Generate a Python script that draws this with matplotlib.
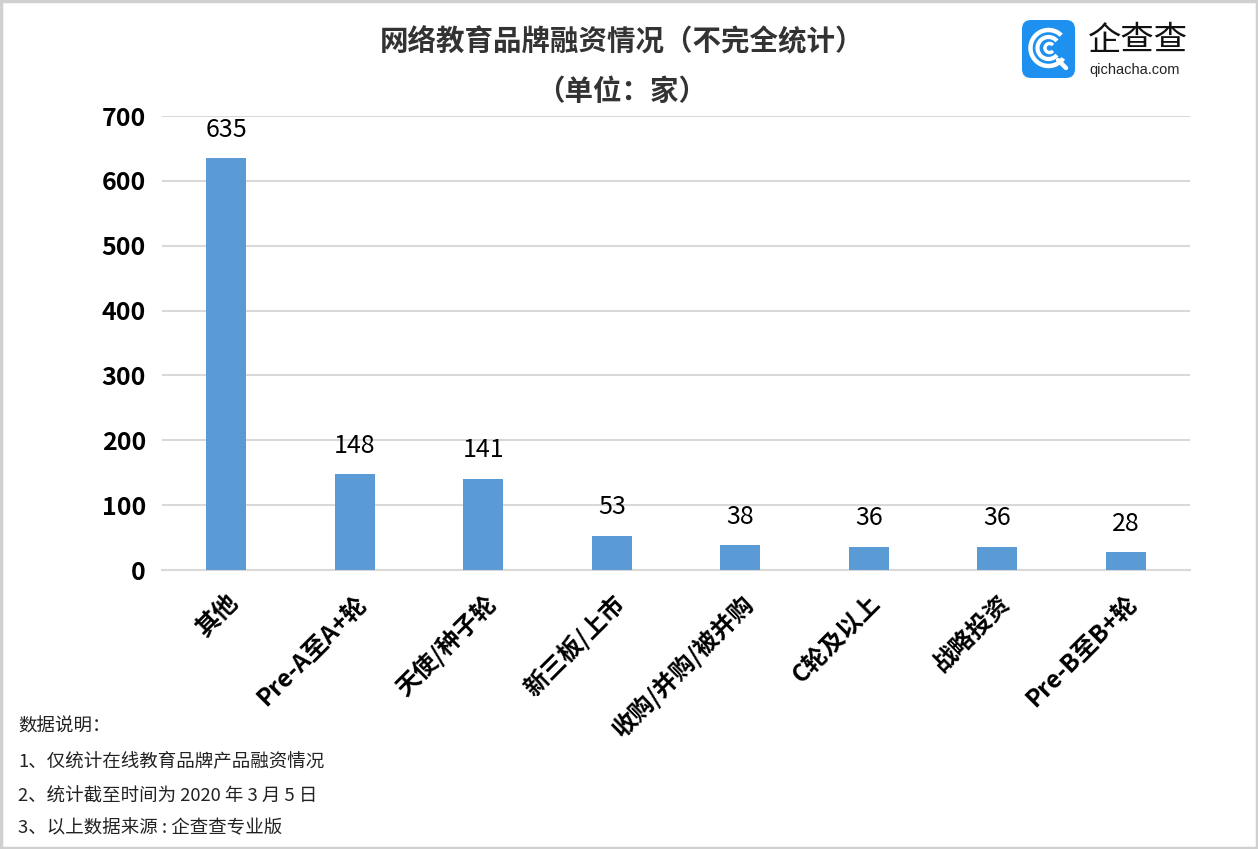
import matplotlib
matplotlib.use("Agg")
import matplotlib.pyplot as plt
from matplotlib.patches import FancyBboxPatch, Rectangle, Arc
import numpy as np

categories = ["其他", "Pre-A至A+轮", "天使/种子轮", "新三板/上市", "收购/并购/被并购", "C轮及以上", "战略投资", "Pre-B至B+轮"]
values = [635, 148, 141, 53, 38, 36, 36, 28]
yticks = [0, 100, 200, 300, 400, 500, 600, 700]
title1 = "网络教育品牌融资情况（不完全统计）"
title2 = "（单位：家）"
notes = ["数据说明：", "1、仅统计在线教育品牌产品融资情况", "2、统计截至时间为 2020 年 3 月 5 日", "3、以上数据来源 : 企查查专业版"]

plt.rcParams['font.family'] = ['Noto Sans CJK SC', 'DejaVu Sans']

W, H = 1258, 849
fig = plt.figure(figsize=(W/100, H/100), dpi=100)
fig.patch.set_facecolor('white')

ax = fig.add_axes([162/W, 1-570/H, (1190-162)/W, (570-116)/H])
x = np.arange(len(categories))
ax.bar(x, values, width=0.31, color='#5B9BD5', zorder=3)
ax.set_xlim(-0.5, len(categories)-0.5)
ax.set_ylim(0, 700)
ax.set_yticks(yticks)
ax.set_yticklabels([str(v) for v in yticks], fontsize=18, fontweight='bold')
ax.tick_params(axis='y', length=0, pad=11.5)
ax.tick_params(axis='x', length=0, pad=15)
ax.set_xticks(x)
ax.set_xticklabels(categories, rotation=45, ha='right', rotation_mode='anchor',
                   fontsize=17.5, fontweight='bold')
ax.grid(axis='y', color='#D9D9D9', linewidth=1.5, zorder=0)
for s in ['top', 'right', 'left']:
    ax.spines[s].set_visible(False)
ax.spines['bottom'].set_color('#D9D9D9')
ax.spines['bottom'].set_linewidth(1.5)

for xi, v in zip(x, values):
    ax.annotate(str(v), (xi, v), xytext=(0, 11), textcoords='offset points',
                ha='center', va='bottom', fontsize=18, fontweight='medium')

fig.text(622/W, 1-42/H, title1, ha='center', va='center', fontsize=20.5,
         fontweight='bold', color='#333333')
fig.text(622/W, 1-92/H, title2, ha='center', va='center', fontsize=20.5,
         fontweight='bold', color='#333333')

ys = [727, 762, 797, 828]
for t, yy in zip(notes, ys):
    fig.text(18/W, 1-yy/H, t, ha='left', va='center', fontsize=13.3, color='#222222')

# logo
logo_ax = fig.add_axes([1021/W, 1-79/H, 55/W, 60/H])
logo_ax.set_xlim(0, 55); logo_ax.set_ylim(0, 60)
logo_ax.axis('off')
logo_ax.add_patch(FancyBboxPatch((1, 1), 53, 58, boxstyle="round,pad=0,rounding_size=9",
                                 facecolor='#1E90F0', edgecolor='none'))
logo_ax.add_patch(Arc((27.5, 31), 36, 36, theta1=45, theta2=325, color='white', lw=3.2))
logo_ax.add_patch(Arc((27.5, 31), 22, 22, theta1=40, theta2=320, color='white', lw=3))
logo_ax.add_patch(Arc((28.5, 31), 9, 9, theta1=40, theta2=320, color='white', lw=2.5))
logo_ax.plot([37, 45], [19, 11], color='white', lw=3.2, solid_capstyle='round')
fig.text(1088/W, 1-40/H, "企查查", ha='left', va='center', fontsize=24, color='#111111',
         fontweight='light')
fig.text(1089/W, 1-70/H, "qichacha.com", ha='left', va='center', fontsize=10.5,
         color='#222222', family=['Liberation Sans'])

fig.add_artist(Rectangle((0.001, 0.001), 0.998, 0.998, transform=fig.transFigure,
                         fill=False, edgecolor='#D0D0D0', linewidth=2.5))

fig.savefig('out.png', dpi=100, facecolor='white')
